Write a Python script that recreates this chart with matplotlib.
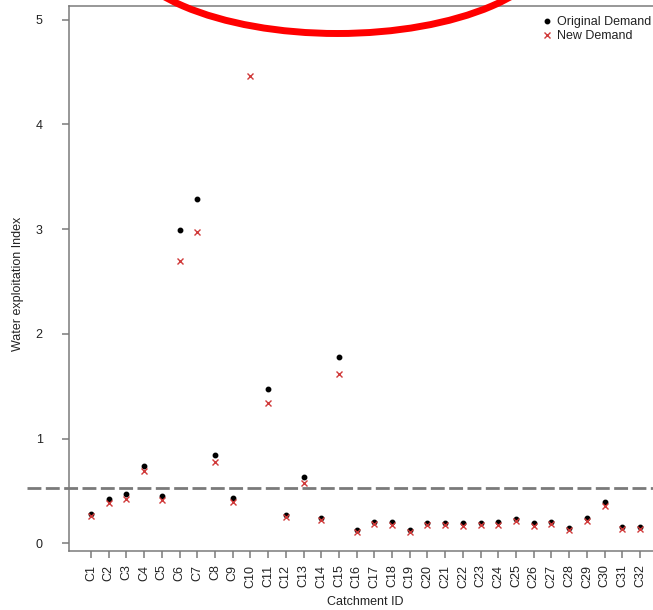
import numpy as np
import matplotlib
matplotlib.use("Agg")
import matplotlib.pyplot as plt
from matplotlib.patches import Ellipse

plt.rcParams['font.family'] = ['Liberation Sans', 'DejaVu Sans']

# valores
catchments = ["C%d" % i for i in range(1, 33)]
original = [0.283, 0.423, 0.471, 0.741, 0.455, 2.99, 3.287, 0.846, 0.433, np.nan,
            1.474, 0.273, 0.633, 0.242, 1.78, 0.124, 0.203, 0.200, 0.127, 0.194,
            0.197, 0.190, 0.190, 0.200, 0.235, 0.190, 0.203, 0.146, 0.239, 0.392,
            0.153, 0.153]
novo = [0.258, 0.385, 0.423, 0.690, 0.417, 2.70, 2.97, 0.780, 0.392, 4.457,
        1.337, 0.248, 0.573, 0.220, 1.617, 0.108, 0.184, 0.180, 0.108, 0.178,
        0.178, 0.165, 0.172, 0.180, 0.210, 0.168, 0.184, 0.127, 0.216, 0.356,
        0.137, 0.134]
limiar = 0.53
yticks = [0, 1, 2, 3, 4, 5]

cinza = '#7a7a7a'
texto = '#222222'
vermelho = '#d03a3a'

fig = plt.figure(figsize=(6.53, 6.10), dpi=100)
ax = fig.add_axes([69/653, 1 - 550.7/610, 593/653, 544.7/610])

x = np.arange(1, len(catchments) + 1)
ax.plot(x, original, linestyle='none', marker='o', markersize=3.2,
        color='black', label='Original Demand')
ax.plot(x, novo, linestyle='none', marker='x', markersize=5,
        markeredgewidth=1.0, color=vermelho, label='New Demand')

# linha de referencia tracejada (sai um pouco do quadro a esquerda)
ax.plot([-2.6, 33.3], [limiar, limiar], color=cinza, linewidth=2,
        dashes=(5, 1.6), clip_on=False)

ax.set_xlim(-0.24, 33.24)
ax.set_ylim(-0.07, 5.13)
ax.set_xticks(x)
ax.set_xticklabels(catchments, rotation=90, fontsize=9, color=texto)
ax.set_yticks(yticks)
ax.set_yticklabels([str(v) for v in yticks], fontsize=9, color=texto)
ax.tick_params(axis='x', length=5, width=1.1, color=cinza, pad=5)
ax.tick_params(axis='y', length=5, width=1.1, color=cinza, pad=14)

for s in ax.spines.values():
    s.set_color(cinza)
    s.set_linewidth(1.1)

ax.set_xlabel('Catchment ID', fontsize=9, color=texto)
ax.set_ylabel('Water exploitation Index', fontsize=9, color=texto)
ax.xaxis.set_label_coords(0.5, -0.084)
ax.yaxis.set_label_coords(-0.076, 0.49)

fig.legend(loc='upper left', bbox_to_anchor=(541.7/653, 1 - 16.5/610),
           frameon=False, fontsize=9, handlelength=0.8, handletextpad=0.45,
           borderpad=0, borderaxespad=0, labelspacing=0.12, labelcolor=texto)

# elipse vermelha de destaque no topo
elipse = Ellipse((337.5/653, (610 + 60)/610), 436/653, 187/610,
                 transform=fig.transFigure, fill=False, edgecolor='#ff0000',
                 linewidth=5, clip_on=False)
fig.patches.append(elipse)

fig.savefig('out.png', dpi=100)
